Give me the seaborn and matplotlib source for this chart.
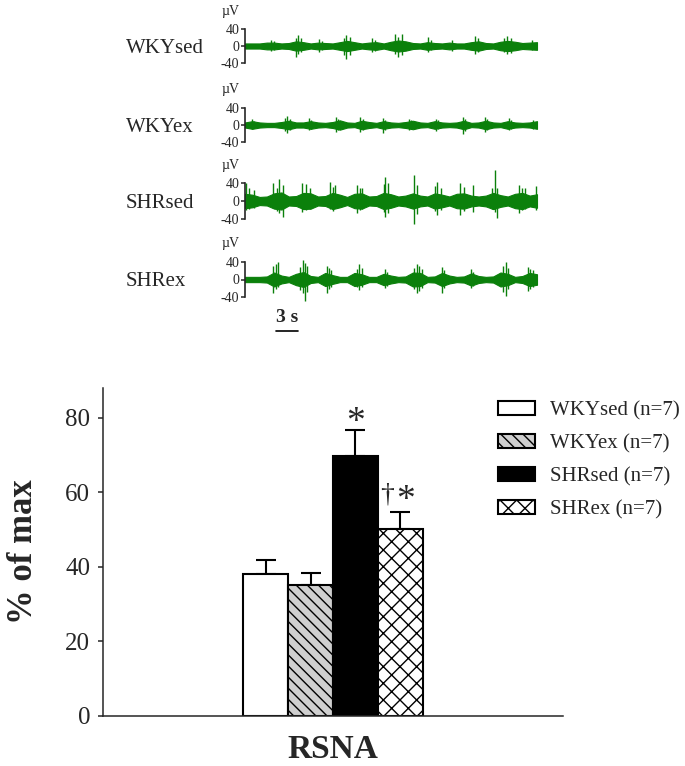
import numpy as np
import pandas as pd
import matplotlib.pyplot as plt
import seaborn as sns

W, H = 685, 766
GREEN = "#0b800b"

# RSNA summary (% of max)
groups = ["WKYsed (n=7)", "WKYex (n=7)", "SHRsed (n=7)", "SHRex (n=7)"]
rsna_mean = [38.1, 35.1, 69.7, 50.1]
rsna_sem = [3.7, 3.2, 7.0, 4.6]
vs_wky = [False, False, True, True]     # * marks
vs_shrsed = [False, False, False, True]  # dagger marks

# raw nerve recordings: envelope read once per second, plus the tallest spikes (uV)
trace_names = ["WKYsed", "WKYex", "SHRsed", "SHRex"]
seconds = np.arange(41)
scale_bar_s = 3

wkysed_body = [6, 6, 6, 8, 8, 6, 7, 11, 9, 6, 8, 7, 6, 9, 12, 9, 6, 8, 9, 6, 10,
               13, 11, 7, 6, 9, 7, 6, 8, 6, 6, 9, 11, 7, 6, 10, 12, 10, 7, 8, 9]
wkysed_spike_t = [3.6, 4.0, 7.0, 7.3, 7.7, 10.2, 10.6, 13.6, 13.9, 14.4, 17.4, 17.8,
                  20.5, 21.0, 21.5, 25.1, 25.5, 28.4, 31.5, 31.9, 35.5, 35.9, 36.4, 39.3]
wkysed_spike_hi = [15, 12, 18, 25, 20, 16, 12, 18, 27, 22, 19, 14,
                   29, 22, 28, 21, 15, 13, 24, 18, 20, 24, 18, 14]
wkysed_spike_lo = [-12, -9, -26, -18, -14, -15, -10, -22, -30, -20, -14, -12,
                   -18, -26, -20, -14, -10, -11, -18, -14, -14, -18, -16, -10]

wkyex_body = [6, 9, 6, 5, 5, 7, 10, 6, 6, 9, 6, 5, 7, 11, 6, 5, 10, 7, 5, 9, 6,
              5, 7, 10, 6, 5, 9, 6, 5, 6, 10, 5, 6, 10, 6, 5, 9, 6, 5, 6, 9]
wkyex_spike_t = [1.0, 1.3, 5.5, 5.8, 6.1, 8.8, 9.1, 12.4, 12.7, 15.8, 16.1, 18.9,
                 19.2, 22.5, 22.8, 26.2, 26.5, 29.8, 30.1, 32.9, 33.2, 36.2, 36.5, 39.5]
wkyex_spike_hi = [14, 10, 16, 21, 14, 16, 11, 19, 14, 19, 13, 17,
                  12, 14, 11, 15, 11, 18, 13, 19, 14, 16, 11, 12]
wkyex_spike_lo = [-10, -8, -14, -18, -12, -12, -9, -16, -12, -17, -11, -18,
                  -12, -12, -9, -14, -10, -22, -14, -16, -12, -12, -9, -9]

shrsed_body = [16, 14, 9, 10, 17, 19, 10, 11, 18, 17, 10, 11, 18, 14, 9, 16, 17, 10, 11, 18, 15,
               10, 12, 17, 12, 10, 17, 14, 10, 16, 17, 12, 10, 12, 18, 13, 10, 16, 18, 12, 15]
shrsed_spike_t = [0.2, 0.6, 1.2, 3.9, 4.4, 4.7, 5.2, 7.8, 8.3, 8.9, 11.6, 12.0, 12.3, 15.3,
                  15.7, 16.0, 19.0, 19.2, 19.6, 23.1, 23.5, 26.0, 26.3, 26.8, 29.5, 30.0,
                  31.3, 33.9, 34.2, 34.5, 37.5, 37.9, 38.4, 39.9]
shrsed_spike_hi = [39, 28, 25, 39, 30, 50, 36, 40, 38, 30, 43, 32, 35, 36,
                   30, 28, 38, 54, 40, 58, 35, 33, 43, 30, 39, 32,
                   36, 30, 69, 30, 36, 30, 28, 33]
shrsed_spike_lo = [-20, -18, -15, -16, -22, -27, -35, -24, -20, -18, -18, -22, -16, -27,
                   -20, -18, -24, -35, -26, -50, -28, -22, -31, -20, -31, -22,
                   -25, -18, -24, -38, -26, -20, -18, -20]

shrex_body = [6, 6, 6, 7, 16, 9, 6, 13, 17, 8, 6, 15, 10, 6, 6, 15, 12, 6, 6, 13, 9,
              6, 7, 16, 15, 6, 7, 15, 9, 6, 7, 14, 8, 6, 7, 16, 13, 6, 8, 15, 12]
shrex_spike_t = [3.9, 4.2, 4.5, 7.6, 7.9, 8.2, 8.5, 11.2, 11.5, 11.8, 15.3, 15.6, 16.0, 19.2,
                 19.5, 23.2, 23.5, 23.8, 24.2, 27.0, 27.3, 30.9, 31.2, 35.4, 35.7, 36.0,
                 38.8, 39.1, 39.5]
shrex_spike_hi = [30, 36, 40, 28, 44, 38, 30, 32, 26, 22, 24, 36, 26, 24,
                  18, 26, 36, 30, 24, 28, 22, 24, 18, 30, 40, 26, 28, 24, 22]
shrex_spike_lo = [-31, -22, -18, -24, -30, -50, -28, -30, -22, -18, -18, -23, -16, -19,
                  -14, -22, -30, -26, -20, -30, -20, -19, -15, -28, -38, -22, -27, -22, -18]


def px_axes(fig, x0, y0, x1, y1):
    # pixel box (top-left origin) -> figure axes
    return fig.add_axes([x0 / W, 1 - y1 / H, (x1 - x0) / W, (y1 - y0) / H])


def fig_text(fig, x, y, s, **kw):
    fig.text(x / W, 1 - y / H, s, **kw)


def draw_trace(ax, body, spike_t, spike_hi, spike_lo):
    body = np.asarray(body)
    ax.fill_between(seconds, -body, body, color=GREEN, lw=0.8, clip_on=False)
    ax.vlines(spike_t, spike_lo, spike_hi, color=GREEN, lw=1.0, clip_on=False)
    ax.set_xlim(0, 40)
    ax.set_ylim(-40, 40)
    ax.set_yticks([-40, 0, 40])
    ax.set_xticks([])
    for side in ["top", "right", "bottom"]:
        ax.spines[side].set_visible(False)
    ax.spines["left"].set_linewidth(1.2)
    ax.tick_params(axis="y", length=3, width=1.1, pad=1, labelsize=10)
    ax.patch.set_alpha(0)


sns.set_style("ticks")
plt.rcParams["font.family"] = ["Liberation Serif", "DejaVu Serif"]
plt.rcParams["axes.unicode_minus"] = False
plt.rcParams["hatch.linewidth"] = 1.0

fig = plt.figure(figsize=(W / 100, H / 100), dpi=100)

traces = [
    (wkysed_body, wkysed_spike_t, wkysed_spike_hi, wkysed_spike_lo),
    (wkyex_body, wkyex_spike_t, wkyex_spike_hi, wkyex_spike_lo),
    (shrsed_body, shrsed_spike_t, shrsed_spike_hi, shrsed_spike_lo),
    (shrex_body, shrex_spike_t, shrex_spike_hi, shrex_spike_lo),
]
rows = [(29, 63), (108, 142), (183, 219), (262, 297)]

trace_axes = []
for name, data, (top, bottom) in zip(trace_names, traces, rows):
    tax = px_axes(fig, 245, top, 537, bottom)
    draw_trace(tax, *data)
    trace_axes.append(tax)
    fig_text(fig, 222, top - 18, "\u00b5V", fontsize=10, va="center")
    fig_text(fig, 126, (top + bottom) / 2 + 7, name, fontsize=15, va="baseline")

# time scale bar under the last trace
last = trace_axes[-1]
last.plot([4.3, 4.3 + scale_bar_s], [-118, -118], color="black", lw=1.2, clip_on=False)
last.text(4.3 + scale_bar_s / 2, -86, f"{scale_bar_s} s", ha="center", va="center",
          fontsize=14, fontweight="bold")

# bar chart
df = pd.DataFrame({"region": ["RSNA"] * len(groups), "group": groups, "value": rsna_mean})
faces = ["white", "#cfcfcf", "black", "white"]
hatches = ["", "\\\\\\", "", "xx"]

ax = px_axes(fig, 103, 388, 563, 716)
sns.barplot(data=df, x="region", y="value", hue="group", hue_order=groups,
            palette=dict(zip(groups, faces)), saturation=1, width=0.39,
            edgecolor="black", linewidth=1.5, errorbar=None, legend=False, ax=ax)
bar_sets = list(ax.containers)
for cont, hatch in zip(bar_sets, hatches):
    for bar in cont:
        bar.set_hatch(hatch)

xs = [c.patches[0].get_x() + c.patches[0].get_width() / 2 for c in bar_sets]
ax.errorbar(xs, rsna_mean, yerr=[np.zeros(len(rsna_sem)), rsna_sem], fmt="none",
            ecolor="black", elinewidth=1.5, capsize=7, capthick=1.5, zorder=0.5)

# significance marks above the error bars
for x, m, s, star, dag in zip(xs, rsna_mean, rsna_sem, vs_wky, vs_shrsed):
    if star:
        ax.annotate("*", xy=(x, m + s), xytext=(5 if dag else 0, 2 if dag else -2),
                    textcoords="offset pixels", ha="center", va="baseline", fontsize=27)
    if dag:
        ax.annotate("\u2020", xy=(x, m + s), xytext=(-13, 11),
                    textcoords="offset pixels", ha="center", va="baseline", fontsize=20)

ax.set_xlim(-0.5, 0.5)
ax.set_ylim(0, 88)
ax.set_yticks([0, 20, 40, 60, 80])
ax.set_xlabel("")
ax.set_ylabel("% of max", fontsize=25, fontweight="bold")
ax.yaxis.set_label_coords(-0.137, 0.5)
ax.tick_params(axis="y", length=3.6, width=1.1, pad=5.5, labelsize=18)
ax.tick_params(axis="x", length=0, pad=13, labelsize=24)
for lbl in ax.get_xticklabels():
    lbl.set_fontweight("bold")
sns.despine(ax=ax)
for side in ["left", "bottom"]:
    ax.spines[side].set_linewidth(1.1)

handles = [c.patches[0] for c in bar_sets]
ax.legend(handles, groups, loc="upper left", bbox_to_anchor=(498 / W, 1 - 401 / H),
          bbox_transform=fig.transFigure, frameon=False, fontsize=15,
          handlelength=1.78, handleheight=0.63, handletextpad=0.72,
          labelspacing=0.66, borderpad=0, borderaxespad=0)

fig.savefig("out.png", dpi=100)
